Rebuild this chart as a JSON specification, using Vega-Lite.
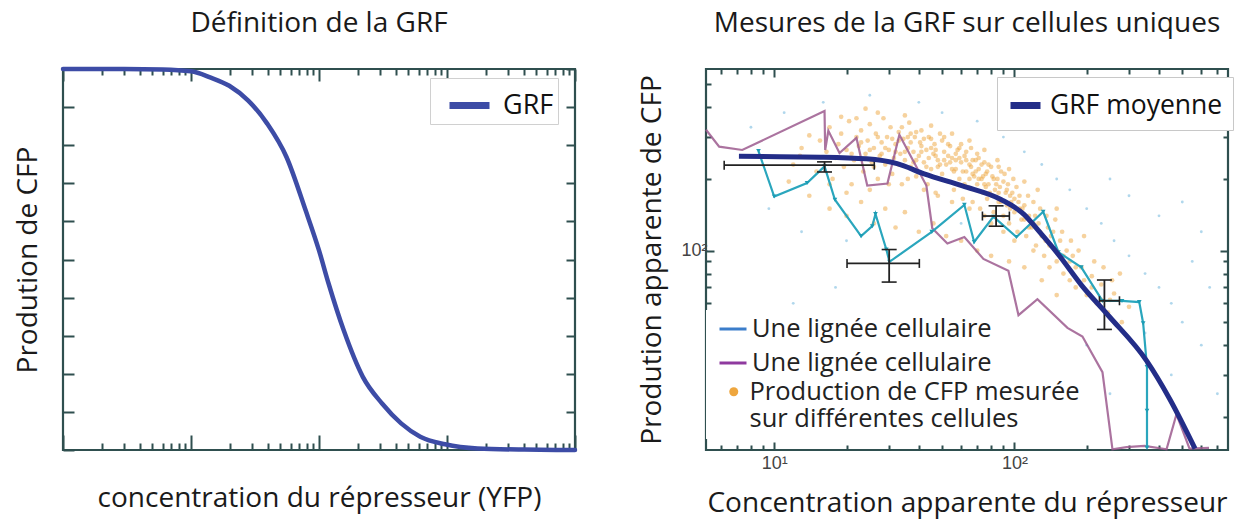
{
  "$schema": "https://vega.github.io/schema/vega-lite/v6.json",
  "background": "white",
  "padding": {"left": 12, "top": 8, "right": 5, "bottom": 5},
  "spacing": 131,
  "bounds": "flush",
  "datasets": {
    "grf": [
      {"c": 1, "p": 1, "s": "GRF"}, {"c": 3, "p": 1.0, "s": "GRF"}, {"c": 6, "p": 0.999, "s": "GRF"},
      {"c": 10, "p": 0.994, "s": "GRF"}, {"c": 14.1, "p": 0.978, "s": "GRF"}, {"c": 19.9, "p": 0.956, "s": "GRF"},
      {"c": 28, "p": 0.917, "s": "GRF"}, {"c": 39.5, "p": 0.856, "s": "GRF"}, {"c": 55.7, "p": 0.769, "s": "GRF"},
      {"c": 78.6, "p": 0.629, "s": "GRF"}, {"c": 100, "p": 0.524, "s": "GRF"}, {"c": 118.8, "p": 0.437, "s": "GRF"},
      {"c": 156, "p": 0.314, "s": "GRF"}, {"c": 220, "p": 0.192, "s": "GRF"}, {"c": 311, "p": 0.122, "s": "GRF"},
      {"c": 438, "p": 0.07, "s": "GRF"}, {"c": 618, "p": 0.035, "s": "GRF"}, {"c": 966, "p": 0.015, "s": "GRF"},
      {"c": 1733, "p": 0.004, "s": "GRF"}, {"c": 4000, "p": 0.001, "s": "GRF"}, {"c": 10000, "p": 0, "s": "GRF"}
    ],
    "mean": [
      {"x": 7.13, "y": 249, "s": "GRF moyenne"}, {"x": 15.6, "y": 247, "s": "GRF moyenne"}, {"x": 24.2, "y": 243, "s": "GRF moyenne"},
      {"x": 32.5, "y": 232, "s": "GRF moyenne"}, {"x": 42.1, "y": 210, "s": "GRF moyenne"}, {"x": 60.8, "y": 187, "s": "GRF moyenne"},
      {"x": 87.9, "y": 164, "s": "GRF moyenne"}, {"x": 109.6, "y": 142, "s": "GRF moyenne"}, {"x": 127, "y": 120, "s": "GRF moyenne"},
      {"x": 153, "y": 95.8, "s": "GRF moyenne"}, {"x": 190.5, "y": 71.4, "s": "GRF moyenne"}, {"x": 246.6, "y": 53.2, "s": "GRF moyenne"},
      {"x": 356, "y": 34.3, "s": "GRF moyenne"}, {"x": 445, "y": 23.6, "s": "GRF moyenne"}, {"x": 565, "y": 14.7, "s": "GRF moyenne"}
    ],
    "keys": [
      {"x": 10, "y": 100, "s": "L1"}, {"x": 10, "y": 100, "s": "L2"}
    ],
    "l1": [
      {"x": 8.6, "y": 262}, {"x": 10, "y": 168.7}, {"x": 13.7, "y": 192.3},
      {"x": 16.2, "y": 226}, {"x": 17.9, "y": 163.6}, {"x": 23, "y": 115},
      {"x": 25.6, "y": 126.6}, {"x": 26.4, "y": 142.5}, {"x": 29.3, "y": 101},
      {"x": 30.2, "y": 89.7}, {"x": 45.3, "y": 119.8}, {"x": 61.9, "y": 155.7},
      {"x": 68, "y": 108.6}, {"x": 81.8, "y": 138.8}, {"x": 102, "y": 114},
      {"x": 131.8, "y": 145.6}, {"x": 152.5, "y": 98.4}, {"x": 190, "y": 85},
      {"x": 232.6, "y": 61.4}, {"x": 280.5, "y": 61.4}, {"x": 331, "y": 60.7},
      {"x": 343.6, "y": 49.5}, {"x": 356.5, "y": 32.4}, {"x": 356.5, "y": 21.2},
      {"x": 356.5, "y": 14.8}
    ],
    "l2": [
      {"x": 5.2, "y": 322}, {"x": 5.9, "y": 273.6}, {"x": 7.36, "y": 264.8},
      {"x": 16.2, "y": 386}, {"x": 16.3, "y": 264.8}, {"x": 16.8, "y": 319},
      {"x": 18.7, "y": 257}, {"x": 22, "y": 297.7}, {"x": 24.4, "y": 187.7},
      {"x": 29.6, "y": 191.4}, {"x": 33.2, "y": 307}, {"x": 43, "y": 187.7},
      {"x": 45.5, "y": 124.2}, {"x": 52.6, "y": 107.1}, {"x": 61.9, "y": 114},
      {"x": 74.3, "y": 92.2}, {"x": 94.4, "y": 82.2}, {"x": 104, "y": 53.5},
      {"x": 124.7, "y": 62.4}, {"x": 166.3, "y": 47.3}, {"x": 192, "y": 43.5},
      {"x": 232.6, "y": 30.8}, {"x": 256, "y": 14.6}, {"x": 293, "y": 14.9},
      {"x": 348, "y": 15.1}, {"x": 430, "y": 14.6}, {"x": 473, "y": 20.5},
      {"x": 536, "y": 14.7}, {"x": 646, "y": 14.8}
    ],
    "errs": [
      {"cx": 16.2, "cy": 228.5, "xlo": 6.19, "xhi": 26.1, "ylo": 214, "yhi": 236},
      {"cx": 30.1, "cy": 88.3, "xlo": 20.1, "xhi": 40.2, "ylo": 73.7, "yhi": 101},
      {"cx": 83.9, "cy": 139.7, "xlo": 73.6, "xhi": 95.3, "ylo": 126.6, "yhi": 154.2},
      {"cx": 237, "cy": 61.5, "xlo": 226, "xhi": 273.8, "ylo": 46.6, "yhi": 75.2}
    ],
    "blue": [
      {"x": 8, "y": 330}, {"x": 9.5, "y": 150}, {"x": 11, "y": 380}, {"x": 13, "y": 120}, {"x": 16, "y": 420},
      {"x": 20, "y": 110}, {"x": 25, "y": 450}, {"x": 30, "y": 95}, {"x": 40, "y": 420}, {"x": 50, "y": 380},
      {"x": 60, "y": 130}, {"x": 70, "y": 350}, {"x": 90, "y": 300}, {"x": 110, "y": 260}, {"x": 130, "y": 230},
      {"x": 150, "y": 200}, {"x": 170, "y": 180}, {"x": 200, "y": 150}, {"x": 230, "y": 130}, {"x": 260, "y": 110},
      {"x": 300, "y": 95}, {"x": 350, "y": 80}, {"x": 400, "y": 70}, {"x": 450, "y": 60}, {"x": 500, "y": 50},
      {"x": 300, "y": 170}, {"x": 400, "y": 140}, {"x": 250, "y": 200}, {"x": 550, "y": 90}, {"x": 600, "y": 40},
      {"x": 350, "y": 45}, {"x": 450, "y": 30}, {"x": 200, "y": 40}, {"x": 12, "y": 60}, {"x": 18, "y": 70},
      {"x": 600, "y": 120}, {"x": 500, "y": 160}, {"x": 650, "y": 70}, {"x": 700, "y": 25}, {"x": 250, "y": 25}
    ],
    "cloud": [
      {"x":12,"y":230,"s":"P"},{"x":13,"y":270,"s":"P"},{"x":11.5,"y":195,"s":"P"},{"x":14,"y":305,"s":"P"},{"x":12.8,"y":250,"s":"P"},
      {"x":15,"y":215,"s":"P"},{"x":15.5,"y":290,"s":"P"},{"x":16.5,"y":260,"s":"P"},{"x":17,"y":330,"s":"P"},{"x":17.5,"y":200,"s":"P"},
      {"x":18,"y":245,"s":"P"},{"x":18.5,"y":280,"s":"P"},{"x":19,"y":310,"s":"P"},{"x":19.5,"y":225,"s":"P"},{"x":20,"y":265,"s":"P"},
      {"x":20.5,"y":350,"s":"P"},{"x":21,"y":190,"s":"P"},{"x":21.5,"y":240,"s":"P"},{"x":22,"y":300,"s":"P"},{"x":22.5,"y":275,"s":"P"},
      {"x":23,"y":320,"s":"P"},{"x":23.5,"y":215,"s":"P"},{"x":24,"y":255,"s":"P"},{"x":24.5,"y":290,"s":"P"},{"x":25,"y":340,"s":"P"},
      {"x":25.5,"y":235,"s":"P"},{"x":26,"y":270,"s":"P"},{"x":26.5,"y":310,"s":"P"},{"x":27,"y":200,"s":"P"},{"x":27.5,"y":250,"s":"P"},
      {"x":28,"y":285,"s":"P"},{"x":28.5,"y":360,"s":"P"},{"x":29,"y":230,"s":"P"},{"x":29.5,"y":300,"s":"P"},{"x":30,"y":265,"s":"P"},
      {"x":30.5,"y":330,"s":"P"},{"x":31,"y":210,"s":"P"},{"x":31.5,"y":245,"s":"P"},{"x":32,"y":280,"s":"P"},{"x":33,"y":315,"s":"P"},
      {"x":33.5,"y":255,"s":"P"},{"x":34,"y":190,"s":"P"},{"x":34.5,"y":295,"s":"P"},{"x":35,"y":240,"s":"P"},{"x":36,"y":270,"s":"P"},
      {"x":36.5,"y":345,"s":"P"},{"x":37,"y":225,"s":"P"},{"x":38,"y":260,"s":"P"},{"x":38.5,"y":300,"s":"P"},{"x":39,"y":205,"s":"P"},
      {"x":40,"y":250,"s":"P"},{"x":40.5,"y":285,"s":"P"},{"x":41,"y":320,"s":"P"},{"x":42,"y":235,"s":"P"},{"x":43,"y":265,"s":"P"},
      {"x":43.5,"y":190,"s":"P"},{"x":44,"y":300,"s":"P"},{"x":45,"y":220,"s":"P"},{"x":46,"y":255,"s":"P"},{"x":46.5,"y":280,"s":"P"},
      {"x":47,"y":175,"s":"P"},{"x":48,"y":240,"s":"P"},{"x":49,"y":310,"s":"P"},{"x":50,"y":210,"s":"P"},{"x":51,"y":260,"s":"P"},
      {"x":52,"y":230,"s":"P"},{"x":53,"y":195,"s":"P"},{"x":54,"y":275,"s":"P"},{"x":55,"y":245,"s":"P"},{"x":56,"y":180,"s":"P"},
      {"x":57,"y":220,"s":"P"},{"x":58,"y":265,"s":"P"},{"x":59,"y":200,"s":"P"},{"x":60,"y":235,"s":"P"},{"x":61,"y":165,"s":"P"},
      {"x":62,"y":250,"s":"P"},{"x":63,"y":215,"s":"P"},{"x":64,"y":185,"s":"P"},{"x":65,"y":230,"s":"P"},{"x":66,"y":270,"s":"P"},
      {"x":67,"y":160,"s":"P"},{"x":68,"y":205,"s":"P"},{"x":69,"y":240,"s":"P"},{"x":70,"y":190,"s":"P"},{"x":71,"y":220,"s":"P"},
      {"x":72,"y":150,"s":"P"},{"x":73,"y":200,"s":"P"},{"x":74,"y":175,"s":"P"},{"x":75,"y":235,"s":"P"},{"x":76,"y":210,"s":"P"},
      {"x":77,"y":165,"s":"P"},{"x":78,"y":190,"s":"P"},{"x":80,"y":225,"s":"P"},{"x":82,"y":145,"s":"P"},{"x":83,"y":180,"s":"P"},
      {"x":85,"y":200,"s":"P"},{"x":86,"y":160,"s":"P"},{"x":88,"y":215,"s":"P"},{"x":90,"y":140,"s":"P"},{"x":92,"y":175,"s":"P"},
      {"x":94,"y":190,"s":"P"},{"x":95,"y":130,"s":"P"},{"x":97,"y":160,"s":"P"},{"x":99,"y":200,"s":"P"},{"x":100,"y":145,"s":"P"},
      {"x":103,"y":120,"s":"P"},{"x":105,"y":170,"s":"P"},{"x":107,"y":135,"s":"P"},{"x":110,"y":155,"s":"P"},{"x":112,"y":115,"s":"P"},
      {"x":115,"y":140,"s":"P"},{"x":118,"y":125,"s":"P"},{"x":120,"y":160,"s":"P"},{"x":123,"y":105,"s":"P"},{"x":126,"y":130,"s":"P"},
      {"x":130,"y":115,"s":"P"},{"x":133,"y":95,"s":"P"},{"x":136,"y":140,"s":"P"},{"x":140,"y":105,"s":"P"},{"x":145,"y":120,"s":"P"},
      {"x":150,"y":90,"s":"P"},{"x":155,"y":110,"s":"P"},{"x":160,"y":80,"s":"P"},{"x":165,"y":100,"s":"P"},{"x":170,"y":75,"s":"P"},
      {"x":175,"y":95,"s":"P"},{"x":180,"y":70,"s":"P"},{"x":190,"y":85,"s":"P"},{"x":200,"y":65,"s":"P"},{"x":210,"y":78,"s":"P"},
      {"x":220,"y":60,"s":"P"},{"x":230,"y":72,"s":"P"},{"x":245,"y":55,"s":"P"},{"x":260,"y":66,"s":"P"},{"x":280,"y":50,"s":"P"},
      {"x":300,"y":58,"s":"P"},
      {"x":26,"y":225,"s":"P"},{"x":28,"y":255,"s":"P"},{"x":31,"y":295,"s":"P"},{"x":33,"y":230,"s":"P"},{"x":36,"y":300,"s":"P"},
      {"x":38,"y":235,"s":"P"},{"x":41,"y":275,"s":"P"},{"x":44,"y":245,"s":"P"},{"x":47,"y":265,"s":"P"},{"x":50,"y":290,"s":"P"},
      {"x":53,"y":250,"s":"P"},{"x":56,"y":215,"s":"P"},{"x":59,"y":245,"s":"P"},{"x":62,"y":190,"s":"P"},{"x":66,"y":225,"s":"P"},
      {"x":70,"y":255,"s":"P"},{"x":74,"y":205,"s":"P"},{"x":78,"y":230,"s":"P"},{"x":82,"y":200,"s":"P"},{"x":87,"y":185,"s":"P"},
      {"x":91,"y":210,"s":"P"},{"x":96,"y":170,"s":"P"},{"x":102,"y":185,"s":"P"},{"x":108,"y":150,"s":"P"},{"x":114,"y":170,"s":"P"},
      {"x":122,"y":140,"s":"P"},{"x":128,"y":150,"s":"P"},{"x":138,"y":125,"s":"P"},{"x":148,"y":135,"s":"P"},{"x":158,"y":120,"s":"P"},
      {"x":172,"y":110,"s":"P"},{"x":185,"y":100,"s":"P"},{"x":195,"y":115,"s":"P"},{"x":215,"y":90,"s":"P"},{"x":235,"y":85,"s":"P"},
      {"x":255,"y":75,"s":"P"},{"x":275,"y":80,"s":"P"},{"x":150,"y":150,"s":"P"},{"x":125,"y":180,"s":"P"},{"x":110,"y":195,"s":"P"},
      {"x":95,"y":220,"s":"P"},{"x":85,"y":240,"s":"P"},{"x":75,"y":265,"s":"P"},{"x":65,"y":290,"s":"P"},{"x":55,"y":310,"s":"P"},
      {"x":45,"y":335,"s":"P"},{"x":35,"y":370,"s":"P"},{"x":27,"y":380,"s":"P"},{"x":22,"y":360,"s":"P"},{"x":19,"y":365,"s":"P"},
      {"x":24,"y":395,"s":"P"},
      {"x":14,"y":170,"s":"P"},{"x":17,"y":150,"s":"P"},{"x":20,"y":140,"s":"P"},{"x":23,"y":160,"s":"P"},{"x":26,"y":130,"s":"P"},
      {"x":29,"y":150,"s":"P"},{"x":32,"y":125,"s":"P"},{"x":35,"y":145,"s":"P"},{"x":40,"y":120,"s":"P"},{"x":46,"y":130,"s":"P"},
      {"x":52,"y":115,"s":"P"},{"x":60,"y":110,"s":"P"},{"x":70,"y":100,"s":"P"},{"x":80,"y":95,"s":"P"},{"x":95,"y":90,"s":"P"},
      {"x":110,"y":85,"s":"P"},{"x":130,"y":75,"s":"P"},{"x":150,"y":65,"s":"P"},
      {"x":32,"y":260,"s":"P"},{"x":34,"y":330,"s":"P"},{"x":37,"y":285,"s":"P"},{"x":39,"y":315,"s":"P"},{"x":42,"y":295,"s":"P"},
      {"x":45,"y":270,"s":"P"},{"x":48,"y":225,"s":"P"},{"x":51,"y":300,"s":"P"},{"x":54,"y":235,"s":"P"},{"x":57,"y":255,"s":"P"},
      {"x":60,"y":280,"s":"P"},{"x":63,"y":240,"s":"P"},{"x":67,"y":210,"s":"P"},{"x":71,"y":245,"s":"P"},{"x":76,"y":185,"s":"P"},
      {"x":81,"y":170,"s":"P"},{"x":86,"y":225,"s":"P"},{"x":93,"y":155,"s":"P"},{"x":98,"y":175,"s":"P"},{"x":104,"y":160,"s":"P"},
      {"x":21,"y":255,"s":"P"},{"x":23,"y":285,"s":"P"},{"x":25,"y":265,"s":"P"},{"x":27,"y":300,"s":"P"},{"x":29,"y":270,"s":"P"},
      {"x":31,"y":235,"s":"P"},{"x":33,"y":290,"s":"P"},{"x":35,"y":260,"s":"P"},{"x":37,"y":310,"s":"P"},{"x":39,"y":240,"s":"P"},
      {"x":41,"y":260,"s":"P"},{"x":43,"y":225,"s":"P"},{"x":45,"y":295,"s":"P"},{"x":47,"y":250,"s":"P"},{"x":49,"y":230,"s":"P"},
      {"x":51,"y":240,"s":"P"},{"x":53,"y":280,"s":"P"},{"x":55,"y":220,"s":"P"},{"x":57,"y":240,"s":"P"},{"x":59,"y":270,"s":"P"},
      {"x":61,"y":215,"s":"P"},{"x":63,"y":260,"s":"P"},{"x":65,"y":200,"s":"P"},{"x":67,"y":240,"s":"P"},{"x":69,"y":215,"s":"P"},
      {"x":71,"y":200,"s":"P"},{"x":73,"y":230,"s":"P"},{"x":75,"y":190,"s":"P"},{"x":77,"y":215,"s":"P"},{"x":79,"y":175,"s":"P"},
      {"x":81,"y":205,"s":"P"},{"x":84,"y":190,"s":"P"},{"x":86,"y":175,"s":"P"},{"x":88,"y":160,"s":"P"},{"x":90,"y":195,"s":"P"},
      {"x":93,"y":180,"s":"P"},{"x":96,"y":150,"s":"P"},{"x":100,"y":165,"s":"P"},{"x":105,"y":150,"s":"P"},{"x":110,"y":135,"s":"P"},
      {"x":115,"y":125,"s":"P"},{"x":120,"y":130,"s":"P"},{"x":128,"y":120,"s":"P"},{"x":135,"y":110,"s":"P"},{"x":142,"y":115,"s":"P"},
      {"x":150,"y":100,"s":"P"},{"x":160,"y":95,"s":"P"},{"x":170,"y":90,"s":"P"},{"x":180,"y":85,"s":"P"},{"x":195,"y":75,"s":"P"},
      {"x":210,"y":70,"s":"P"},{"x":230,"y":62,"s":"P"},{"x":250,"y":62,"s":"P"},{"x":120,"y":100,"s":"P"},{"x":140,"y":85,"s":"P"},
      {"x":100,"y":110,"s":"P"},{"x":90,"y":120,"s":"P"},{"x":80,"y":130,"s":"P"},{"x":75,"y":140,"s":"P"},{"x":65,"y":150,"s":"P"},
      {"x":55,"y":160,"s":"P"},{"x":48,"y":170,"s":"P"},{"x":42,"y":180,"s":"P"},{"x":36,"y":200,"s":"P"},{"x":30,"y":190,"s":"P"},
      {"x":25,"y":180,"s":"P"},{"x":20,"y":175,"s":"P"},{"x":17,"y":190,"s":"P"}
    ]
  },
  "hconcat": [
    {
      "width": 512,
      "height": 381,
      "title": {"text": "Définition de la GRF", "offset": 22},
      "layer": [
        {
          "data": {"name": "grf"},
          "mark": {"type": "line", "strokeWidth": 4.5, "interpolate": "monotone", "strokeCap": "round"},
          "encoding": {
            "x": {"field": "c", "type": "quantitative",
              "scale": {"type": "log", "domain": [1, 10000], "nice": false},
              "axis": {"orient": "bottom", "labels": false,
                "values": [1,2,3,4,5,6,7,8,9,10,20,30,40,50,60,70,80,90,100,200,300,400,500,600,700,800,900,1000,2000,3000,4000,5000,6000,7000,8000,9000,10000],
                "tickSize": {"condition": {"test": "datum.value === 1 || datum.value === 10 || datum.value === 100 || datum.value === 1000 || datum.value === 10000", "value": -15}, "value": -7},
                "title": "concentration du répresseur (YFP)", "titlePadding": 33}},
            "y": {"field": "p", "type": "quantitative",
              "scale": {"domain": [0, 1], "nice": false, "zero": false},
              "axis": {"orient": "left", "labels": false,
                "values": [0,0.1,0.2,0.3,0.4,0.5,0.6,0.7,0.8,0.9,1],
                "tickSize": -11, "title": "Prodution de CFP", "titlePadding": 20}},
            "color": {"field": "s", "type": "nominal",
              "scale": {"domain": ["GRF"], "range": ["#3d4ca6"]},
              "legend": {"orient": "none", "legendX": 367, "legendY": 9, "title": null, "padding": 4,
                "fillColor": "white", "strokeColor": "#d0d0d0",
                "symbolType": "stroke", "symbolSize": 1600, "symbolStrokeWidth": 7, "symbolOffset": 12,
                "symbolStrokeColor": "#1f2672", "labelFontSize": 27, "labelOffset": 10,
                "labelExpr": "datum.label + '   '"}}
          }
        },
        {
          "data": {"name": "grf"},
          "mark": {"type": "line", "opacity": 0},
          "encoding": {
            "x": {"field": "c", "type": "quantitative",
              "scale": {"type": "log", "domain": [1, 10000], "nice": false},
              "axis": {"orient": "top", "labels": false, "title": null,
                "values": [1,2,3,4,5,6,7,8,9,10,20,30,40,50,60,70,80,90,100,200,300,400,500,600,700,800,900,1000,2000,3000,4000,5000,6000,7000,8000,9000,10000],
                "tickSize": {"condition": {"test": "datum.value === 1 || datum.value === 10 || datum.value === 100 || datum.value === 1000 || datum.value === 10000", "value": -12}, "value": -6}}},
            "y": {"field": "p", "type": "quantitative",
              "scale": {"domain": [0, 1], "nice": false, "zero": false},
              "axis": {"orient": "right", "labels": false, "title": null,
                "values": [0,0.1,0.2,0.3,0.4,0.5,0.6,0.7,0.8,0.9,1],
                "tickSize": -9}}
          }
        }
      ],
      "resolve": {"axis": {"x": "independent", "y": "independent"}}
    },
    {
      "width": 522,
      "height": 381,
      "title": {"text": "Mesures de la GRF sur cellules uniques", "offset": 30},
      "layer": [
        {
          "layer": [
            {
              "data": {"name": "blue"},
              "mark": {"type": "point", "filled": true, "size": 8, "color": "#7cbde0", "opacity": 0.6},
              "encoding": {
                "x": {"field": "x", "type": "quantitative",
                  "scale": {"type": "log", "domain": [5.2, 775], "nice": false},
                  "axis": {"orient": "bottom",
                    "values": [6,7,8,9,10,20,30,40,50,60,70,80,90,100,200,300,400,500,600,700],
                    "labelExpr": "datum.value === 10 ? '10¹' : datum.value === 100 ? '10²' : ''",
                    "labelFontSize": 18,
                    "tickSize": {"condition": {"test": "datum.value === 10 || datum.value === 100", "value": -8}, "value": -5},
                    "labelPadding": 12,
                    "title": "Concentration apparente du répresseur", "titlePadding": 17}},
                "y": {"field": "y", "type": "quantitative",
                  "scale": {"type": "log", "domain": [14.5, 580], "nice": false},
                  "axis": {"orient": "left",
                    "values": [20,30,40,50,60,70,80,90,100,200,300,400,500],
                    "labelExpr": "datum.value === 100 ? '10²' : ''",
                    "labelFontSize": 18,
                    "tickSize": {"condition": {"test": "datum.value === 100", "value": -8}, "value": -5},
                    "labelPadding": 7,
                    "title": "Prodution apparente de CFP", "titlePadding": 14}}
              }
            },
            {
              "data": {"name": "cloud"},
              "mark": {"type": "point", "filled": true, "size": 22, "opacity": 0.5, "strokeWidth": 0},
              "encoding": {
                "x": {"field": "x", "type": "quantitative", "scale": {"type": "log", "domain": [5.2, 775], "nice": false}},
                "y": {"field": "y", "type": "quantitative", "scale": {"type": "log", "domain": [14.5, 580], "nice": false}},
                "fill": {"field": "s", "type": "nominal",
                  "scale": {"domain": ["P"], "range": ["#eea63e"]},
                  "legend": {"orient": "none", "legendX": 0, "legendY": 304, "title": null, "padding": 6,
                    "fillColor": "white", "strokeColor": null,
                    "labelFontSize": 25.5, "labelColor": "#222", "labelLimit": 600, "labelOffset": 3,
                    "labelExpr": "['Production de CFP mesurée', 'sur différentes cellules']",
                    "symbolType": "circle", "symbolSize": 81, "symbolOffset": 9, "symbolOpacity": 1,
                    "symbolFillColor": "#e08a25", "symbolStrokeWidth": 0}}
              }
            },
            {
              "data": {"name": "l2"},
              "mark": {"type": "line", "strokeWidth": 2.2, "opacity": 0.85, "stroke": "#9c5b8e"},
              "encoding": {
                "x": {"field": "x", "type": "quantitative", "scale": {"type": "log", "domain": [5.2, 775], "nice": false}},
                "y": {"field": "y", "type": "quantitative", "scale": {"type": "log", "domain": [14.5, 580], "nice": false}}
              }
            },
            {
              "data": {"name": "l1"},
              "mark": {"type": "line", "strokeWidth": 2.2, "stroke": "#2aa6bd"},
              "encoding": {
                "x": {"field": "x", "type": "quantitative", "scale": {"type": "log", "domain": [5.2, 775], "nice": false}},
                "y": {"field": "y", "type": "quantitative", "scale": {"type": "log", "domain": [14.5, 580], "nice": false}}
              }
            },
            {
              "data": {"name": "l1"},
              "mark": {"type": "point", "shape": "triangle-down", "size": 22, "filled": true, "color": "#1d9cb4", "opacity": 1},
              "encoding": {
                "x": {"field": "x", "type": "quantitative", "scale": {"type": "log", "domain": [5.2, 775], "nice": false}},
                "y": {"field": "y", "type": "quantitative", "scale": {"type": "log", "domain": [14.5, 580], "nice": false}}
              }
            },
            {
              "data": {"name": "errs"},
              "mark": {"type": "rule", "color": "#222", "strokeWidth": 1.8},
              "encoding": {
                "x": {"field": "xlo", "type": "quantitative", "scale": {"type": "log", "domain": [5.2, 775], "nice": false}},
                "x2": {"field": "xhi"},
                "y": {"field": "cy", "type": "quantitative", "scale": {"type": "log", "domain": [14.5, 580], "nice": false}}
              }
            },
            {
              "data": {"name": "errs"},
              "mark": {"type": "rule", "color": "#222", "strokeWidth": 1.8},
              "encoding": {
                "x": {"field": "cx", "type": "quantitative", "scale": {"type": "log", "domain": [5.2, 775], "nice": false}},
                "y": {"field": "ylo", "type": "quantitative", "scale": {"type": "log", "domain": [14.5, 580], "nice": false}},
                "y2": {"field": "yhi"}
              }
            },
            {
              "data": {"name": "errs"},
              "mark": {"type": "tick", "orient": "vertical", "size": 9, "thickness": 1.6, "color": "#222", "opacity": 1},
              "encoding": {
                "x": {"field": "xlo", "type": "quantitative", "scale": {"type": "log", "domain": [5.2, 775], "nice": false}},
                "y": {"field": "cy", "type": "quantitative", "scale": {"type": "log", "domain": [14.5, 580], "nice": false}}
              }
            },
            {
              "data": {"name": "errs"},
              "mark": {"type": "tick", "orient": "vertical", "size": 9, "thickness": 1.6, "color": "#222", "opacity": 1},
              "encoding": {
                "x": {"field": "xhi", "type": "quantitative", "scale": {"type": "log", "domain": [5.2, 775], "nice": false}},
                "y": {"field": "cy", "type": "quantitative", "scale": {"type": "log", "domain": [14.5, 580], "nice": false}}
              }
            },
            {
              "data": {"name": "errs"},
              "mark": {"type": "tick", "orient": "horizontal", "size": 15, "thickness": 1.6, "color": "#222", "opacity": 1},
              "encoding": {
                "x": {"field": "cx", "type": "quantitative", "scale": {"type": "log", "domain": [5.2, 775], "nice": false}},
                "y": {"field": "ylo", "type": "quantitative", "scale": {"type": "log", "domain": [14.5, 580], "nice": false}}
              }
            },
            {
              "data": {"name": "errs"},
              "mark": {"type": "tick", "orient": "horizontal", "size": 15, "thickness": 1.6, "color": "#222", "opacity": 1},
              "encoding": {
                "x": {"field": "cx", "type": "quantitative", "scale": {"type": "log", "domain": [5.2, 775], "nice": false}},
                "y": {"field": "yhi", "type": "quantitative", "scale": {"type": "log", "domain": [14.5, 580], "nice": false}}
              }
            },
            {
              "data": {"name": "keys"},
              "mark": {"type": "line", "opacity": 0},
              "encoding": {
                "x": {"field": "x", "type": "quantitative", "scale": {"type": "log", "domain": [5.2, 775], "nice": false}},
                "y": {"field": "y", "type": "quantitative", "scale": {"type": "log", "domain": [14.5, 580], "nice": false}},
                "stroke": {"field": "s", "type": "nominal",
                  "scale": {"domain": ["L1", "L2"], "range": ["#3b7dca", "#8f3a9f"]},
                  "legend": {"orient": "none", "legendX": 0, "legendY": 241, "title": null, "padding": 4,
                    "fillColor": "white", "strokeColor": null, "rowPadding": 5,
                    "labelFontSize": 25.5, "labelColor": "#222", "labelLimit": 600, "labelOffset": 4,
                    "labelExpr": "'Une lignée cellulaire'",
                    "symbolType": "stroke", "symbolSize": 729, "symbolStrokeWidth": 3, "symbolOffset": 8,
                    "symbolOpacity": 1}}
              }
            },
            {
              "data": {"name": "mean"},
              "mark": {"type": "line", "strokeWidth": 5, "interpolate": "monotone"},
              "encoding": {
                "x": {"field": "x", "type": "quantitative", "scale": {"type": "log", "domain": [5.2, 775], "nice": false}},
                "y": {"field": "y", "type": "quantitative", "scale": {"type": "log", "domain": [14.5, 580], "nice": false}},
                "color": {"field": "s", "type": "nominal",
                  "scale": {"domain": ["GRF moyenne"], "range": ["#232d88"]},
                  "legend": {"orient": "none", "legendX": 291, "legendY": 8, "title": null, "padding": 10,
                    "fillColor": "white", "strokeColor": "#c8c8c8", "labelLimit": 400,
                    "symbolType": "stroke", "symbolSize": 900, "symbolStrokeWidth": 7,
                    "labelFontSize": 26.5, "labelOffset": 6, "labelColor": "#111"}}
              }
            }
          ]
        },
        {
          "data": {"name": "mean"},
          "mark": {"type": "line", "opacity": 0},
          "encoding": {
            "x": {"field": "x", "type": "quantitative",
              "scale": {"type": "log", "domain": [5.2, 775], "nice": false},
              "axis": {"orient": "top", "labels": false, "title": null,
                "values": [6,7,8,9,10,20,30,40,50,60,70,80,90,100,200,300,400,500,600,700],
                "tickSize": {"condition": {"test": "datum.value === 10 || datum.value === 100", "value": -8}, "value": -5}}},
            "y": {"field": "y", "type": "quantitative",
              "scale": {"type": "log", "domain": [14.5, 580], "nice": false},
              "axis": {"orient": "right", "labels": false, "title": null,
                "values": [20,30,40,50,60,70,80,90,100,200,300,400,500],
                "tickSize": {"condition": {"test": "datum.value === 100", "value": -8}, "value": -5}}}
          }
        }
      ],
      "resolve": {"axis": {"x": "independent", "y": "independent"}}
    }
  ],
  "resolve": {"scale": {"color": "independent", "stroke": "independent", "fill": "independent", "x": "independent", "y": "independent"}, "legend": {"color": "independent", "stroke": "independent", "fill": "independent"}},
  "config": {
    "font": "Open Sans",
    "view": {"stroke": "#2f4f4f", "strokeWidth": 2.2},
    "title": {"fontSize": 28, "font": "Open Sans", "fontWeight": "normal", "color": "#1a1a1a", "anchor": "middle"},
    "axis": {"domain": false, "grid": false, "tickColor": "#2f4f4f", "tickWidth": 2,
      "labelFont": "Liberation Sans", "labelFontSize": 15, "labelColor": "#444",
      "titleFont": "Open Sans", "titleFontSize": 28, "titleFontWeight": "normal", "titleColor": "#1a1a1a"},
    "legend": {"labelFont": "Open Sans", "labelColor": "#111"}
  }
}
